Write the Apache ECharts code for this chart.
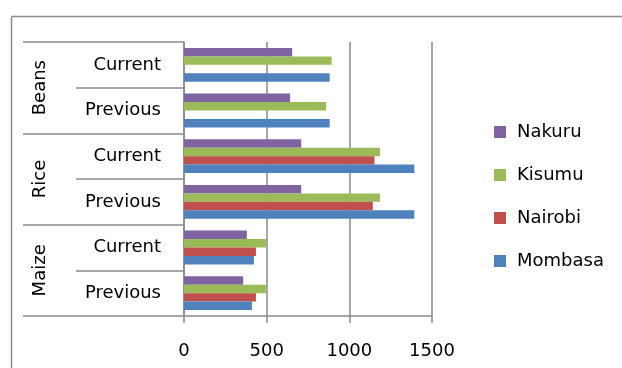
<!DOCTYPE html>
<html>
<head>
<meta charset="utf-8">
<script src="https://cdn.jsdelivr.net/npm/echarts@6/dist/echarts.min.js"></script>
<style>
  html, body { margin: 0; padding: 0; background: #fff; }
  #chart { width: 622px; height: 368px; }
</style>
</head>
<body>
<div id="chart"></div>
<script>
// Period labels (inner axis), bottom to top
const periods = ['Previous', 'Current', 'Previous', 'Current', 'Previous', 'Current'];
// Crop groups (outer axis), bottom to top
const crops = ['Maize', 'Rice', 'Beans'];
// Price values per town, in the same order as periods
const nakuru  = [358, 380, 709, 709, 642, 654];
const kisumu  = [495, 495, 1185, 1185, 860, 893];
const nairobi = [435, 435, 1142, 1152, null, null];
const mombasa = [411, 423, 1393, 1393, 881, 881];
const xTicks = [0, 500, 1000, 1500];

const font = 'DejaVu Sans';
const fontSize = 18;
const gridGrey = '#8a8a8a';

const chart = echarts.init(document.getElementById('chart'), null, { renderer: 'canvas' });

const barSeries = (name, data, color) => ({
  name: name,
  type: 'bar',
  data: data,
  yAxisIndex: 0,
  barGap: '0%',
  barCategoryGap: '26%',
  itemStyle: { color: color },
  emphasis: { disabled: true },
  animation: false
});

const frameStyle = { stroke: '#8c8c8c', lineWidth: 1.5 };

chart.setOption({
  animation: false,
  textStyle: { fontFamily: font },
  // chart-area frame: top and left edges
  graphic: [{
    type: 'line',
    shape: { x1: 11.5, y1: 16.5, x2: 640, y2: 16.5 },
    style: frameStyle,
    silent: true
  }, {
    type: 'line',
    shape: { x1: 11.5, y1: 16.5, x2: 11.5, y2: 380 },
    style: frameStyle,
    silent: true
  }],
  grid: {
    left: 184, top: 42, right: 190, bottom: 52,
    containLabel: false,
    outerBoundsMode: 'none'
  },
  legend: {
    orient: 'vertical',
    left: 494,
    top: 122,
    padding: 0,
    itemWidth: 12,
    itemHeight: 12,
    itemGap: 23,
    icon: 'rect',
    data: ['Nakuru', 'Kisumu', 'Nairobi', 'Mombasa'],
    textStyle: { fontFamily: font, fontSize: fontSize, color: '#000', lineHeight: 20, padding: [0, 0, 0, 6] },
    selectedMode: false
  },
  xAxis: {
    type: 'value',
    min: xTicks[0],
    max: xTicks[xTicks.length - 1],
    interval: xTicks[1] - xTicks[0],
    axisLine: { show: true, lineStyle: { color: gridGrey, width: 1.5 } },
    axisTick: { show: true, length: 7, lineStyle: { color: gridGrey, width: 1.5 } },
    splitLine: { show: true, lineStyle: { color: gridGrey, width: 1.5 } },
    axisLabel: {
      fontFamily: font, fontSize: fontSize, color: '#000', margin: 26,
      formatter: (v) => String(v)
    }
  },
  yAxis: [{
    type: 'category',
    position: 'left',
    data: periods,
    axisLine: { show: true, lineStyle: { color: gridGrey, width: 1.5 } },
    axisTick: { show: true, length: 108, interval: 0, lineStyle: { color: gridGrey, width: 1.5 } },
    axisLabel: { fontFamily: font, fontSize: fontSize, color: '#000', margin: 23, interval: 0 }
  }, {
    type: 'category',
    position: 'left',
    offset: 0,
    data: crops,
    axisLine: { show: false },
    axisTick: { show: true, length: 161, interval: 0, lineStyle: { color: gridGrey, width: 1.5 } },
    axisLabel: { fontFamily: font, fontSize: fontSize, color: '#000', margin: 135, rotate: 90, interval: 0 }
  }],
  series: [
    barSeries('Nakuru', nakuru, '#8064A2'),
    barSeries('Kisumu', kisumu, '#9BBB59'),
    barSeries('Nairobi', nairobi, '#C0504D'),
    barSeries('Mombasa', mombasa, '#4F81BD')
  ]
});
</script>
</body>
</html>
